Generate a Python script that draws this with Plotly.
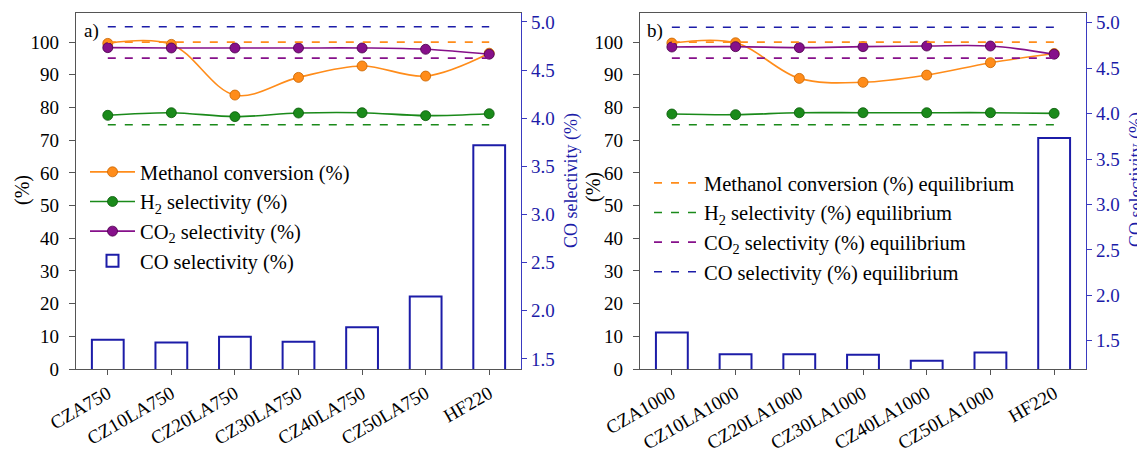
import plotly.graph_objects as go

# ---------------- data ----------------
cats_a = ["CZA750", "CZ10LA750", "CZ20LA750", "CZ30LA750", "CZ40LA750", "CZ50LA750", "HF220"]
cats_b = ["CZA1000", "CZ10LA1000", "CZ20LA1000", "CZ30LA1000", "CZ40LA1000", "CZ50LA1000", "HF220"]

meoh_a = [99.6, 99.3, 83.8, 89.2, 92.7, 89.6, 96.6]
h2_a = [77.6, 78.4, 77.2, 78.3, 78.4, 77.5, 78.1]
co2_a = [98.3, 98.2, 98.2, 98.2, 98.2, 97.8, 96.3]
co_a = [1.70, 1.67, 1.73, 1.68, 1.83, 2.15, 3.72]

meoh_b = [99.7, 99.8, 88.9, 87.7, 89.9, 93.7, 96.5]
h2_b = [78.0, 77.8, 78.4, 78.4, 78.4, 78.4, 78.2]
co2_b = [98.5, 98.6, 98.3, 98.6, 98.8, 98.8, 96.3]
co_b = [1.59, 1.35, 1.35, 1.345, 1.28, 1.37, 3.73]

eq_meoh = 100.0
eq_h2 = 74.7
eq_co2 = 95.1
eq_co = 4.95

# ---------------- style ----------------
FONT = "Liberation Serif, Times New Roman, serif"
ORANGE = "#ff8c1a"
GREEN = "#1a8a1a"
PURPLE = "#86108a"
BLUE = "#1c1ca8"
AXBLUE = "#3a3ac0"
GRAY = "#555555"

OFF = 8  # default page body margin
W, H = 1145 - OFF, 452 - OFF


def px_x(p):
    return (p - OFF) / W


def px_y(p):
    return 1 - (p - OFF) / H


fig = go.Figure()


def add_panel(cats, meoh, h2, co2, co, xa, ya, ya2, legend_data, legend_eq):
    series = [
        ("Methanol conversion (%)", meoh, ORANGE, "#c86400"),
        ("H<sub>2</sub> selectivity (%)", h2, GREEN, "#0a5a0a"),
        ("CO<sub>2</sub> selectivity (%)", co2, PURPLE, "#4a004a"),
    ]
    # bars (CO selectivity, right axis)
    fig.add_trace(go.Bar(
        x=cats, y=co, xaxis=xa, yaxis=ya2, width=0.5,
        marker=dict(color="rgba(0,0,0,0)", line=dict(color=BLUE, width=2)),
        name="CO selectivity (%)", showlegend=legend_data is not None,
        legend=legend_data or "legend", legendrank=4,
    ))
    for i, (name, vals, col, dark) in enumerate(series):
        fig.add_trace(go.Scatter(
            x=cats, y=vals, xaxis=xa, yaxis=ya, mode="lines+markers",
            line=dict(color=col, width=1.6, shape="spline"),
            marker=dict(size=10, color=col, line=dict(color=dark, width=0.8)),
            name=name, showlegend=legend_data is not None,
            legend=legend_data or "legend", legendrank=i + 1,
        ))
    eqs = [
        ("Methanol conversion (%) equilibrium", eq_meoh, ORANGE, ya),
        ("H<sub>2</sub> selectivity (%) equilibrium", eq_h2, GREEN, ya),
        ("CO<sub>2</sub> selectivity (%) equilibrium", eq_co2, PURPLE, ya),
        ("CO selectivity (%) equilibrium", eq_co, BLUE, ya2),
    ]
    for i, (name, v, col, yax) in enumerate(eqs):
        fig.add_trace(go.Scatter(
            x=[cats[0], cats[-1]], y=[v, v], xaxis=xa, yaxis=yax, mode="lines",
            line=dict(color=col, width=1.6, dash="8px,9px"),
            name=name, showlegend=legend_eq is not None,
            legend=legend_eq or "legend", legendrank=10 + i,
        ))


add_panel(cats_a, meoh_a, h2_a, co2_a, co_a, "x", "y", "y2", "legend", None)
add_panel(cats_b, meoh_b, h2_b, co2_b, co_b, "x2", "y3", "y4", None, "legend2")

ydom = [px_y(369), px_y(13)]
xdom_a = [px_x(76), px_x(521)]
xdom_b = [px_x(640), px_x(1086)]

xcommon = dict(
    type="category", range=[-0.5, 6.5], showline=True, linecolor=GRAY, linewidth=1.3,
    mirror=True, ticks="outside", ticklen=5, tickcolor=GRAY, tickangle=-30,
    tickfont=dict(family=FONT, size=19, color="black"), showgrid=False,
    zeroline=False, automargin=False,
)
yleft = dict(
    range=[0, 108.9], tickvals=[0, 10, 20, 30, 40, 50, 60, 70, 80, 90, 100],
    showline=True, linecolor=GRAY, linewidth=1.3, ticks="outside", ticklen=6,
    tickcolor=GRAY, tickfont=dict(family=FONT, size=19, color="black"),
    ticklabelstandoff=6,
    showgrid=False, zeroline=False, automargin=False, domain=ydom,
)
yright = dict(
    side="right", tickvals=[1.5, 2.0, 2.5, 3.0, 3.5, 4.0, 4.5, 5.0], tickformat=".1f",
    showline=True, linecolor=AXBLUE, linewidth=1.3, ticks="outside", ticklen=5,
    tickcolor=AXBLUE, tickfont=dict(family=FONT, size=19, color=BLUE),
    showgrid=False, zeroline=False, automargin=False,
)

fig.update_layout(
    width=W, height=H, margin=dict(l=0, r=0, t=0, b=0),
    plot_bgcolor="white", paper_bgcolor="white",
    font=dict(family=FONT, color="black"),
    xaxis=dict(xcommon, domain=xdom_a, anchor="y"),
    xaxis2=dict(xcommon, domain=xdom_b, anchor="y3"),
    yaxis=dict(yleft, anchor="x"),
    yaxis2=dict(yright, range=[1.396, 5.093], overlaying="y", anchor="x"),
    yaxis3=dict(yleft, anchor="x2"),
    yaxis4=dict(yright, range=[1.189, 5.107], overlaying="y3", anchor="x2"),
    barmode="overlay",
    legend=dict(
        x=px_x(85), y=px_y(152), xanchor="left", yanchor="top",
        bgcolor="rgba(0,0,0,0)", font=dict(family=FONT, size=20.5, color="black"),
        itemwidth=45, tracegroupgap=0, traceorder="normal",
    ),
    legend2=dict(
        x=px_x(649), y=px_y(163), xanchor="left", yanchor="top",
        bgcolor="rgba(0,0,0,0)", font=dict(family=FONT, size=20.5, color="black"),
        itemwidth=45, tracegroupgap=0, traceorder="normal",
    ),
    showlegend=True,
)

ann = [
    dict(text="(%)", x=px_x(22), y=px_y(190), textangle=-90, font=dict(size=20, color="black")),
    dict(text="CO selectivity (%)", x=px_x(571), y=px_y(181), textangle=-90, font=dict(size=18, color=BLUE)),
    dict(text="(%)", x=px_x(593), y=px_y(187), textangle=-90, font=dict(size=20, color="black")),
    dict(text="CO selectivity (%)", x=px_x(1136), y=px_y(180), textangle=-90, font=dict(size=18, color=BLUE)),
    dict(text="a)", x=px_x(91), y=px_y(31), font=dict(size=19, color="black")),
    dict(text="b)", x=px_x(655), y=px_y(31), font=dict(size=19, color="black")),
]
for a in ann:
    a.update(xref="paper", yref="paper", showarrow=False, xanchor="center", yanchor="middle")
    a["font"]["family"] = FONT
    fig.add_annotation(**a)

fig.write_html("out.html")
